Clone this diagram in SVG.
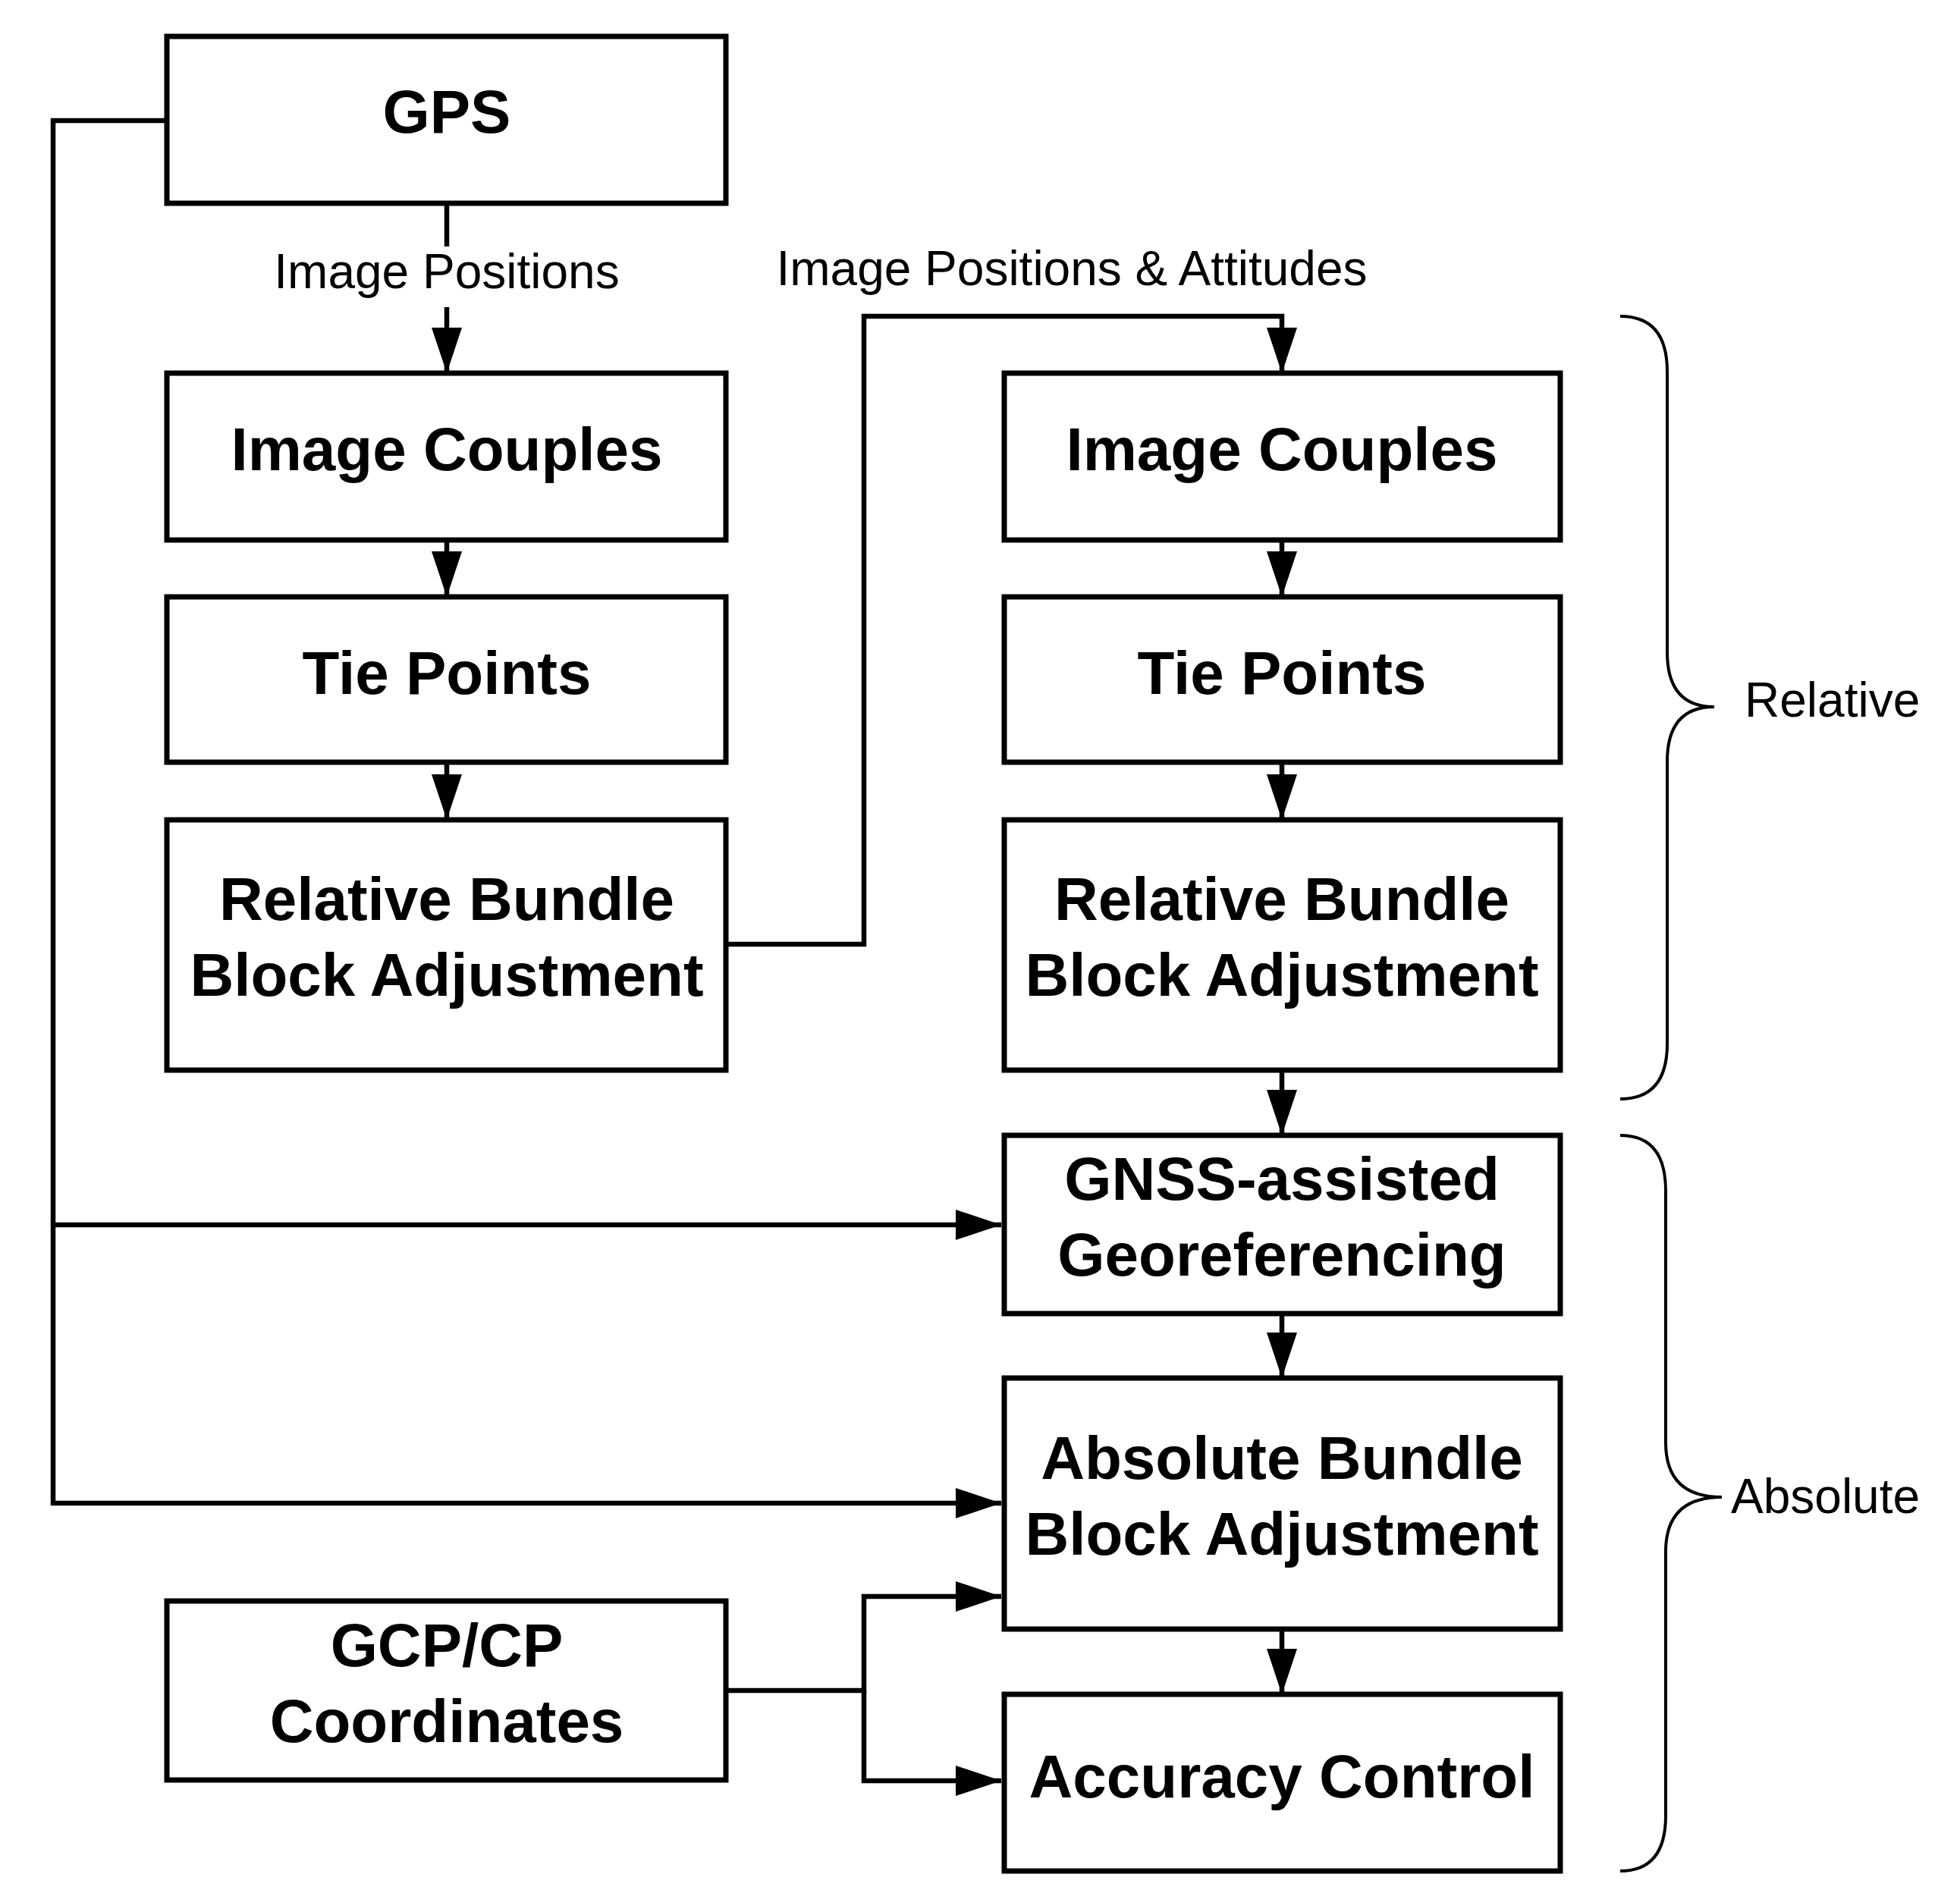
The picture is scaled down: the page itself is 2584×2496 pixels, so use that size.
<svg xmlns="http://www.w3.org/2000/svg" width="2584" height="2496" viewBox="0 0 2584 2496">
<style>
.box{fill:#fff;stroke:#000;stroke-width:7}
.t{font-family:"Liberation Sans",Arial,sans-serif;font-weight:bold;font-size:80px;text-anchor:middle;fill:#000}
.l{font-family:"Liberation Sans",Arial,sans-serif;font-size:64px;fill:#000}
.c{fill:none;stroke:#000;stroke-width:6.5}
.b{fill:none;stroke:#000;stroke-width:4}
</style>
<defs>
<marker id="a" markerUnits="userSpaceOnUse" markerWidth="62" markerHeight="40" refX="60" refY="20" orient="auto">
<path d="M0,0 L60,20 L0,40 Z" fill="#000"/>
</marker>
</defs>
<rect width="2584" height="2496" fill="#fff"/>
<g id="connectors">
<path class="c" d="M589,268 V325"/>
<path class="c" d="M589,405 V492" marker-end="url(#a)"/>
<path class="c" d="M589,712 V787" marker-end="url(#a)"/>
<path class="c" d="M589,1005 V1081" marker-end="url(#a)"/>
<path class="c" d="M957,1245 H1139 V417 H1690 V492" marker-end="url(#a)"/>
<path class="c" d="M1690,712 V787" marker-end="url(#a)"/>
<path class="c" d="M1690,1005 V1081" marker-end="url(#a)"/>
<path class="c" d="M1690,1411 V1497" marker-end="url(#a)"/>
<path class="c" d="M1690,1732 V1817" marker-end="url(#a)"/>
<path class="c" d="M1690,2148 V2234" marker-end="url(#a)"/>
<path class="c" d="M220,159 H70 V1982 H1320" marker-end="url(#a)"/>
<path class="c" d="M70,1615 H1320" marker-end="url(#a)"/>
<path class="c" d="M957,2229 H1139 V2105 H1320" marker-end="url(#a)"/>
<path class="c" d="M1139,2229 V2348 H1320" marker-end="url(#a)"/>
<text class="l" x="589" y="380" text-anchor="middle">Image Positions</text>
<text class="l" x="1413" y="376" text-anchor="middle">Image Positions &amp; Attitudes</text>
</g>
<g id="gps"><rect class="box" x="220" y="48" width="737" height="220"/><text class="t" x="589" y="175">GPS</text></g>
<g id="ic1"><rect class="box" x="220" y="492" width="737" height="220"/><text class="t" x="589" y="620">Image Couples</text></g>
<g id="tp1"><rect class="box" x="220" y="787" width="737" height="218"/><text class="t" x="589" y="915">Tie Points</text></g>
<g id="rbba1"><rect class="box" x="220" y="1081" width="737" height="330"/><text class="t" x="589" y="1213">Relative Bundle</text><text class="t" x="589" y="1313">Block Adjustment</text></g>
<g id="ic2"><rect class="box" x="1324" y="492" width="733" height="220"/><text class="t" x="1690" y="620">Image Couples</text></g>
<g id="tp2"><rect class="box" x="1324" y="787" width="733" height="218"/><text class="t" x="1690" y="915">Tie Points</text></g>
<g id="rbba2"><rect class="box" x="1324" y="1081" width="733" height="330"/><text class="t" x="1690" y="1213">Relative Bundle</text><text class="t" x="1690" y="1313">Block Adjustment</text></g>
<g id="gnss"><rect class="box" x="1324" y="1497" width="733" height="235"/><text class="t" x="1690" y="1582">GNSS-assisted</text><text class="t" x="1690" y="1682">Georeferencing</text></g>
<g id="abba"><rect class="box" x="1324" y="1817" width="733" height="331"/><text class="t" x="1690" y="1950">Absolute Bundle</text><text class="t" x="1690" y="2050">Block Adjustment</text></g>
<g id="ac"><rect class="box" x="1324" y="2234" width="733" height="233"/><text class="t" x="1690" y="2370">Accuracy Control</text></g>
<g id="gcp"><rect class="box" x="220" y="2111" width="737" height="236"/><text class="t" x="589" y="2197">GCP/CP</text><text class="t" x="589" y="2297">Coordinates</text></g>
<g id="relative"><path class="b" d="M2136,417 Q2198,417 2198,490 L2198,860 Q2198,932 2260,932 Q2198,932 2198,1004 L2198,1376 Q2198,1449 2136,1449"/><text class="l" x="2300" y="945">Relative</text></g>
<g id="absolute"><path class="b" d="M2136,1497 Q2196,1497 2196,1570 L2196,1902 Q2196,1974 2270,1974 Q2196,1974 2196,2046 L2196,2394 Q2196,2467 2136,2467"/><text class="l" x="2282" y="1995">Absolute</text></g>
</svg>
